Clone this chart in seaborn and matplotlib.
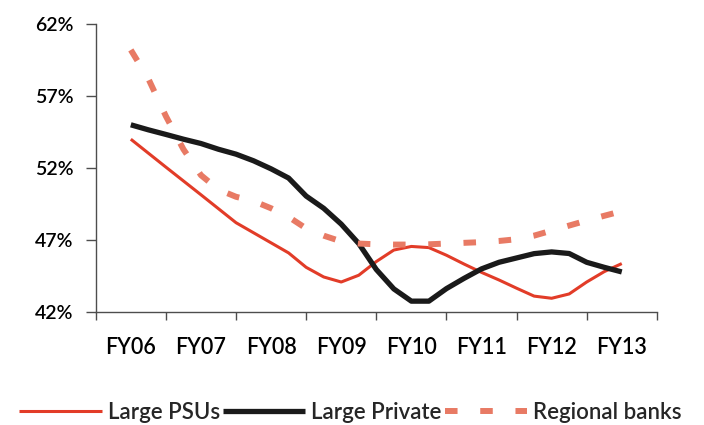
import matplotlib
matplotlib.use("Agg")
import matplotlib.pyplot as plt
import numpy as np
import pandas as pd
import seaborn as sns
from matplotlib.ticker import FixedLocator, FuncFormatter, NullFormatter

# ---- data (at quarter-year steps) ----
categories = ["FY06", "FY07", "FY08", "FY09", "FY10", "FY11", "FY12", "FY13"]
period = [0, 0.25, 0.5, 0.75, 1, 1.25, 1.5, 1.75, 2, 2.25, 2.5, 2.75, 3,
          3.25, 3.5, 3.75, 4, 4.25, 4.5, 4.75, 5, 5.25, 5.5, 5.75, 6, 6.25,
          6.5, 6.75, 7]
large_psus = [54.0, 53.03, 52.06, 51.1, 50.14, 49.17, 48.2, 47.5, 46.8,
              46.1, 45.1, 44.43, 44.08, 44.55, 45.5, 46.3, 46.55, 46.47,
              45.94, 45.33, 44.75, 44.22, 43.65, 43.1, 42.95, 43.25, 44.08,
              44.8, 45.36]
large_private = [55.0, 54.65, 54.33, 54.0, 53.7, 53.3, 52.96, 52.5, 51.94,
                 51.3, 50.05, 49.2, 48.1, 46.75, 44.95, 43.6, 42.75, 42.75,
                 43.62, 44.33, 44.99, 45.45, 45.75, 46.05, 46.17, 46.06,
                 45.45, 45.1, 44.78]
regional_banks = [60.2, 58.2, 55.6, 53.3, 51.5, 50.5, 50.0, 49.7, 49.2,
                  48.6, 47.8, 47.3, 46.9, 46.75, 46.7, 46.68, 46.68, 46.7,
                  46.75, 46.8, 46.85, 46.93, 47.05, 47.3, 47.65, 48.0, 48.35,
                  48.68, 49.0]
series_names = ["Large PSUs", "Large Private", "Regional banks"]
y_ticks = [42, 47, 52, 57, 62]

sns.set_theme(style="white")
plt.rcParams["font.family"] = ["Lato", "DejaVu Sans"]
plt.rcParams["font.weight"] = "semibold"

fig, ax = plt.subplots(figsize=(7.04, 4.25), dpi=100)
fig.subplots_adjust(left=0.136, right=0.933, bottom=0.266, top=0.9435)

df = pd.DataFrame({"period": period, "Large PSUs": large_psus,
                   "Large Private": large_private,
                   "Regional banks": regional_banks})

styles = {
    "Large PSUs": dict(color="#E23C28", lw=2.2, linestyle="-"),
    "Large Private": dict(color="#1A1A1A", lw=3.8, linestyle="-"),
    "Regional banks": dict(color="#E87A64", lw=4.3, linestyle=(0, (2.1, 3.8))),
}
handles = []
for name in series_names:
    st = styles[name]
    sns.lineplot(data=df, x="period", y=name, ax=ax, color=st["color"],
                 lw=st["lw"], linestyle=st["linestyle"], legend=False,
                 solid_capstyle="butt", dash_capstyle="butt",
                 solid_joinstyle="round")
    handles.append(ax.lines[-1])

ax.set_xlim(-0.5, 7.5)
ax.set_ylim(42, 62)
ax.set_xlabel("")
ax.set_ylabel("")

# x: tick marks at category boundaries, labels at centres
ax.xaxis.set_major_locator(FixedLocator(np.arange(-0.5, 8, 1.0)))
ax.xaxis.set_major_formatter(NullFormatter())
ax.xaxis.set_minor_locator(FixedLocator(range(len(categories))))
ax.set_xticklabels(categories, minor=True)
ax.tick_params(axis="x", which="major", direction="out", length=5.5,
               width=1, color="#4D4D4D", bottom=True)
ax.tick_params(axis="x", which="minor", length=0, pad=18, labelsize=15.5,
               labelcolor="black")

ax.yaxis.set_major_locator(FixedLocator(y_ticks))
ax.yaxis.set_major_formatter(FuncFormatter(lambda v, p: f"{v:.0f}%"))
ax.tick_params(axis="y", direction="out", length=7, width=1, color="#4D4D4D",
               left=True, pad=9, labelsize=14, labelcolor="black")

for side in ["top", "right"]:
    ax.spines[side].set_visible(False)
for side in ["left", "bottom"]:
    ax.spines[side].set_color("#4D4D4D")
    ax.spines[side].set_linewidth(1)
ax.grid(False)

fig.legend(handles, series_names, loc="center", bbox_to_anchor=(0.498, 0.03),
           ncol=3, frameon=False, fontsize=16, handlelength=3.7,
           handletextpad=0.27, columnspacing=0.15, borderpad=0,
           borderaxespad=0)

fig.savefig("out.png", dpi=100)
